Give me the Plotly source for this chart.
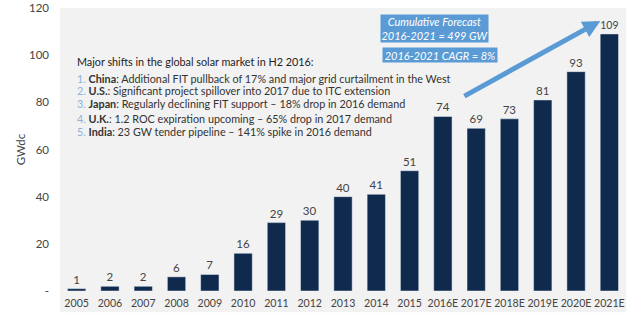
import plotly.graph_objects as go

categories = ["2005", "2006", "2007", "2008", "2009", "2010", "2011", "2012", "2013",
              "2014", "2015", "2016E", "2017E", "2018E", "2019E", "2020E", "2021E"]
values = [1, 2, 2, 6, 7, 16, 29, 30, 40, 41, 51, 74, 69, 73, 81, 93, 109]
y_ticks = [0, 20, 40, 60, 80, 100, 120]
y_tick_labels = ["-", "20", "40", "60", "80", "100", "120"]

title_text = "Major shifts in the global solar market in H2 2016:"
bullets = [
    ("China", ": Additional FIT pullback of 17% and major grid curtailment in the West"),
    ("U.S.", ": Significant project spillover into 2017 due to ITC extension"),
    ("Japan", ": Regularly declining FIT support \u2013 18% drop in 2016 demand"),
    ("U.K.", ": 1.2 ROC expiration upcoming \u2013 65% drop in 2017 demand"),
    ("India", ": 23 GW tender pipeline \u2013 141% spike in 2016 demand"),
]
box1_text = "Cumulative Forecast<br>2016-2021 = 499 GW"
box2_text = "2016-2021 CAGR = 8%"

FONT = "Lato"
W, H = 640, 322
L, R, T, B = 60, 14, 8, 31
pw, ph = W - L - R, H - T - B

def px(x):
    return (x - L) / pw

def py(y):
    return (H - B - y) / ph

fig = go.Figure()
fig.add_trace(go.Bar(
    x=categories, y=values, marker_color="#0f2a4c", width=0.55,
    text=[str(v) for v in values], textposition="outside", cliponaxis=False,
    textfont=dict(family=FONT, size=11.5, color="#444444"),
))

annotations = []
annotations.append(dict(x=px(75), y=py(61), xref="paper", yref="paper", xanchor="left",
                        yanchor="middle", showarrow=False, text=title_text,
                        font=dict(family=FONT, size=10.8, color="#222222")))
line_y = [78, 91, 104, 118, 131]
for i, (name, rest) in enumerate(bullets):
    annotations.append(dict(
        x=px(75), y=py(line_y[i]), xref="paper", yref="paper", xanchor="left",
        yanchor="middle", showarrow=False,
        text=f"<span style='color:#8db3da'>{i+1}.</span> <b>{name}</b>{rest}",
        font=dict(family=FONT, size=10.8, color="#333333")))

# arrow
annotations.append(dict(x=15.73, y=114.5, ax=11.6, ay=82.3, xref="x", yref="y",
                        axref="x", ayref="y", showarrow=True, arrowhead=2,
                        arrowsize=0.7, arrowwidth=5, arrowcolor="#5b9bd5", text=""))

annotations.append(dict(x=px(434.5), y=py(28.5), xref="paper", yref="paper",
                        xanchor="center", yanchor="middle",
                        showarrow=False, text=f"<i>{box1_text}</i>", bgcolor="#5b9bd5",
                        width=107, height=27, borderpad=0,
                        font=dict(family=FONT, size=11, color="#ffffff")))
annotations.append(dict(x=px(440), y=py(55.5), xref="paper", yref="paper",
                        xanchor="center", yanchor="middle",
                        showarrow=False, text=f"<i>{box2_text}</i>", bgcolor="#5b9bd5",
                        width=114, height=14, borderpad=0,
                        font=dict(family=FONT, size=11, color="#ffffff")))

fig.update_layout(
    width=W, height=H, margin=dict(l=L, r=R, t=T, b=B, autoexpand=False),
    paper_bgcolor="#ffffff", plot_bgcolor="#f2f2f2",
    showlegend=False, bargap=0.45, annotations=annotations,
    shapes=[dict(type="rect", xref="paper", yref="paper", x0=0, x1=1, y0=-0.075, y1=0,
                 fillcolor="#f2f2f2", line_width=0, layer="below")],
    xaxis=dict(showgrid=False, zeroline=False, showline=False, ticks="",
               tickangle=0, automargin=False, ticklabelstandoff=4,
               tickfont=dict(family=FONT, size=10.6, color="#444444")),
    yaxis=dict(range=[0, 120], tickvals=y_ticks, ticktext=y_tick_labels,
               showgrid=False, zeroline=False, showline=False, ticks="",
               ticklabelstandoff=10, automargin=False,
               tickfont=dict(family=FONT, size=11.5, color="#444444"),
               title=dict(text="GWdc", font=dict(family=FONT, size=11.5, color="#444444"),
                          standoff=0)),
)
fig.write_html("out.html")
